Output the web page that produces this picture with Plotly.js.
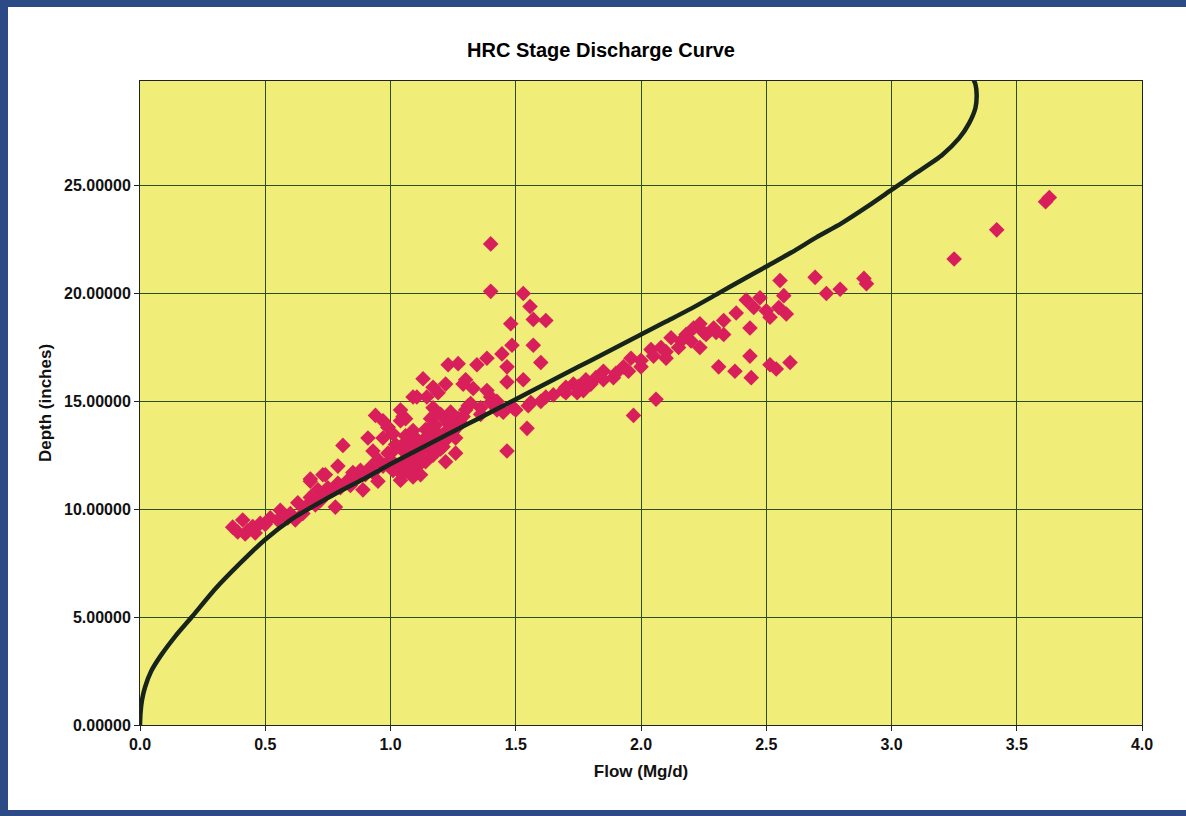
<!DOCTYPE html>
<html>
<head>
<meta charset="utf-8">
<script src="https://cdn.plot.ly/plotly-3.0.1.min.js"></script>
<style>
  html, body { margin: 0; padding: 0; background: #ffffff; }
  #wrap { position: relative; width: 1186px; height: 816px; overflow: hidden; }
  #chart { width: 1186px; height: 816px; }
  .bar { position: absolute; background: #2c4a86; pointer-events: none; }
</style>
</head>
<body>
<div id="wrap">
  <div id="chart"></div>
  <div class="bar" style="left:0;top:0;width:1186px;height:7px;"></div>
  <div class="bar" style="left:0;top:0;width:8px;height:816px;"></div>
  <div class="bar" style="left:0;top:810px;width:1186px;height:6px;"></div>
</div>
<script>
// Rating (stage-discharge) curve
const curveFlow  = [0, 0.002, 0.008, 0.02, 0.045, 0.085, 0.14, 0.21, 0.3, 0.4, 0.5, 0.6, 0.7, 0.8, 0.9, 1.0, 1.1, 1.2, 1.3, 1.4, 1.5, 1.6, 1.7, 1.8, 1.9, 2.0, 2.1, 2.2, 2.3, 2.4, 2.5, 2.6, 2.7, 2.8, 2.9, 3.0, 3.1, 3.2, 3.27, 3.31, 3.335, 3.34, 3.335, 3.32];
const curveDepth = [0, 0.55, 1.15, 1.75, 2.5, 3.25, 4.1, 5.05, 6.3, 7.5, 8.6, 9.5, 10.2, 10.85, 11.45, 12.1, 12.7, 13.3, 13.9, 14.5, 15.1, 15.7, 16.3, 16.9, 17.5, 18.1, 18.7, 19.3, 19.95, 20.6, 21.25, 21.9, 22.6, 23.25, 24.0, 24.8, 25.6, 26.4, 27.2, 27.9, 28.6, 29.2, 29.7, 30.1];

const obsFlow = [
  0.37,0.43,0.41,0.48,0.52,0.56,0.59,0.63,0.65,0.68,0.72,0.71,0.75,0.79,0.83,0.85,0.88,0.92,0.95,0.99,1.01,1.04,1.07,1.10,1.03,1.05,1.09,
  0.81,0.79,0.73,0.68,0.89,0.78,0.95,0.91,0.93,0.99,0.97,1.04,1.01,1.08,
  1.485,1.57,1.60,1.445,1.465,1.465,1.53,1.385,1.345,1.27,1.23,1.13,1.22,1.30,1.33,1.385,1.40,1.31,1.19,1.145,1.105,1.17,1.05,0.99,0.97,1.545,1.465,1.26,1.22,
  1.09,1.16,1.225,1.29,1.36,1.425,1.49,1.56,1.62,1.69,1.73,1.13,1.185,1.08,1.12,1.04,1.01,1.16,1.225,1.265,1.36,1.40,1.425,
  1.40,1.40,1.53,1.557,1.62,1.57,1.48,
  1.70,1.745,1.78,1.82,1.85,1.89,1.93,1.96,2.00,2.04,2.08,2.10,2.12,2.16,2.18,2.21,2.235,2.235,2.26,2.29,2.33,2.33,2.38,2.42,2.45,2.475,2.50,2.515,2.55,2.58,2.57,2.555,
  2.435,2.435,2.44,2.375,2.31,2.515,2.54,2.595,2.06,1.97,
  2.695,2.74,2.795,2.89,2.90,3.25,3.42,3.63,3.615,
  0.94,0.68,0.74,1.06,1.04,1.09,1.17,1.29,1.32,1.225,1.17,1.04,0.99,1.065,1.105,1.77,
  1.12,1.15,1.18,1.20,1.22,1.25,1.28,1.10,1.14,1.17,1.06,1.08,1.12,1.00,0.97,0.93,1.30,1.24,1.20,1.16,
  0.45,0.50,0.55,0.60,0.62,0.66,0.70,0.74,0.77,0.80,0.84,0.87,0.90,0.39,0.42,0.46,
  1.45,1.50,1.55,1.60,1.65,1.70,1.75,1.80,1.85,1.90,1.95,2.00,2.05,2.10,2.15,2.20,2.25,2.30,
  1.02,1.06,1.11,1.14,1.19,1.23,1.27,1.09,1.13,1.18,1.21,1.26
];
const obsDepth = [
  9.17,9.0,9.5,9.35,9.6,9.95,9.6,10.3,9.8,10.55,10.4,10.9,11.0,11.2,11.35,11.7,11.8,11.95,12.3,12.6,12.7,12.9,13.2,13.3,11.8,11.7,11.5,
  12.96,12.0,11.6,11.3,10.9,10.1,11.3,13.3,12.7,13.8,14.1,14.1,13.5,12.3,
  17.6,17.6,16.8,17.2,16.6,15.9,16.0,17.0,16.7,16.75,16.7,16.05,15.8,16.0,15.6,15.5,15.2,14.8,15.4,15.2,15.2,14.7,14.3,13.8,13.3,13.75,12.7,12.6,12.2,
  13.65,13.8,14.1,14.3,14.4,14.6,14.7,14.95,15.2,15.5,15.8,13.2,13.0,12.9,12.4,12.1,11.8,12.7,13.35,13.8,14.7,14.95,15.0,
  22.3,20.1,20.0,19.4,18.75,18.8,18.6,
  15.65,15.4,16.0,16.1,16.4,16.1,16.6,17.0,16.6,17.4,17.5,17.0,17.95,17.8,18.1,18.4,18.6,17.5,18.1,18.4,18.75,18.1,19.1,19.7,19.35,19.8,19.2,18.9,19.35,19.05,19.9,20.6,
  18.4,17.1,16.1,16.4,16.6,16.7,16.5,16.8,15.1,14.35,
  20.75,20.0,20.2,20.7,20.45,21.6,22.95,24.45,24.25,
  14.35,11.4,11.6,14.2,14.6,15.2,15.65,15.8,14.9,13.65,13.2,11.35,12.1,12.1,11.95,15.5,
  12.9,13.4,13.9,12.8,13.2,13.6,14.0,12.4,12.2,12.5,12.6,12.0,11.6,12.3,12.0,11.7,14.6,14.5,14.4,14.2,
  9.2,9.3,9.5,9.8,9.5,10.1,10.2,10.7,10.9,11.0,11.1,11.5,11.6,8.95,8.85,8.9,
  14.5,14.6,14.8,15.0,15.3,15.4,15.7,15.8,16.0,16.3,16.4,16.9,17.1,17.3,17.5,17.8,18.2,18.2,
  13.0,13.4,13.1,13.7,13.5,14.0,14.2,12.5,12.8,13.0,12.9,13.3
];

const chartTitle = "HRC Stage Discharge Curve";
const xTitle = "Flow (Mg/d)";
const yTitle = "Depth (inches)";

const font = "Liberation Sans, Arial, sans-serif";

const traces = [
  {
    x: obsFlow, y: obsDepth, type: "scatter", mode: "markers",
    marker: { symbol: "diamond", size: 12, color: "#d81f5c", line: { width: 0 } },
    showlegend: false, hoverinfo: "x+y"
  },
  {
    x: curveFlow, y: curveDepth, type: "scatter", mode: "lines",
    line: { color: "#16241c", width: 4.5, shape: "spline", smoothing: 0.6 },
    showlegend: false, hoverinfo: "x+y"
  }
];

const layout = {
  width: 1186, height: 816,
  margin: { l: 140, r: 44, t: 81, b: 91 },
  paper_bgcolor: "#ffffff",
  plot_bgcolor: "#f1ed79",
  font: { family: font, color: "#000000" },
  title: {
    text: "<b>" + chartTitle + "</b>",
    font: { family: font, size: 20, color: "#000000" },
    x: 601 / 1186, xref: "container", xanchor: "center",
    y: 1 - 50 / 816, yref: "container", yanchor: "middle"
  },
  xaxis: {
    range: [0, 4], dtick: 0.5, tick0: 0, tickformat: ".1f",
    showgrid: true, gridcolor: "#2e4d1c", gridwidth: 1,
    zeroline: false,
    showline: true, linecolor: "#222222", linewidth: 1, mirror: true,
    ticks: "outside", ticklen: 5, tickcolor: "#222222",
    tickfont: { family: font, size: 16, color: "#111111", weight: "bold" },
    title: { text: "<b>" + xTitle + "</b>", font: { family: font, size: 17, color: "#111111" }, standoff: 12 }
  },
  yaxis: {
    range: [0, 29.85], dtick: 5, tick0: 0, tickformat: ".5f",
    showgrid: true, gridcolor: "#2e4d1c", gridwidth: 1,
    zeroline: false,
    showline: true, linecolor: "#222222", linewidth: 1, mirror: true,
    ticks: "outside", ticklen: 5, tickcolor: "#222222",
    tickfont: { family: font, size: 16, color: "#111111", weight: "bold" },
    title: { text: "<b>" + yTitle + "</b>", font: { family: font, size: 17, color: "#111111" }, standoff: 8 }
  }
};

Plotly.newPlot("chart", traces, layout, { displayModeBar: false, staticPlot: true });
</script>
</body>
</html>
